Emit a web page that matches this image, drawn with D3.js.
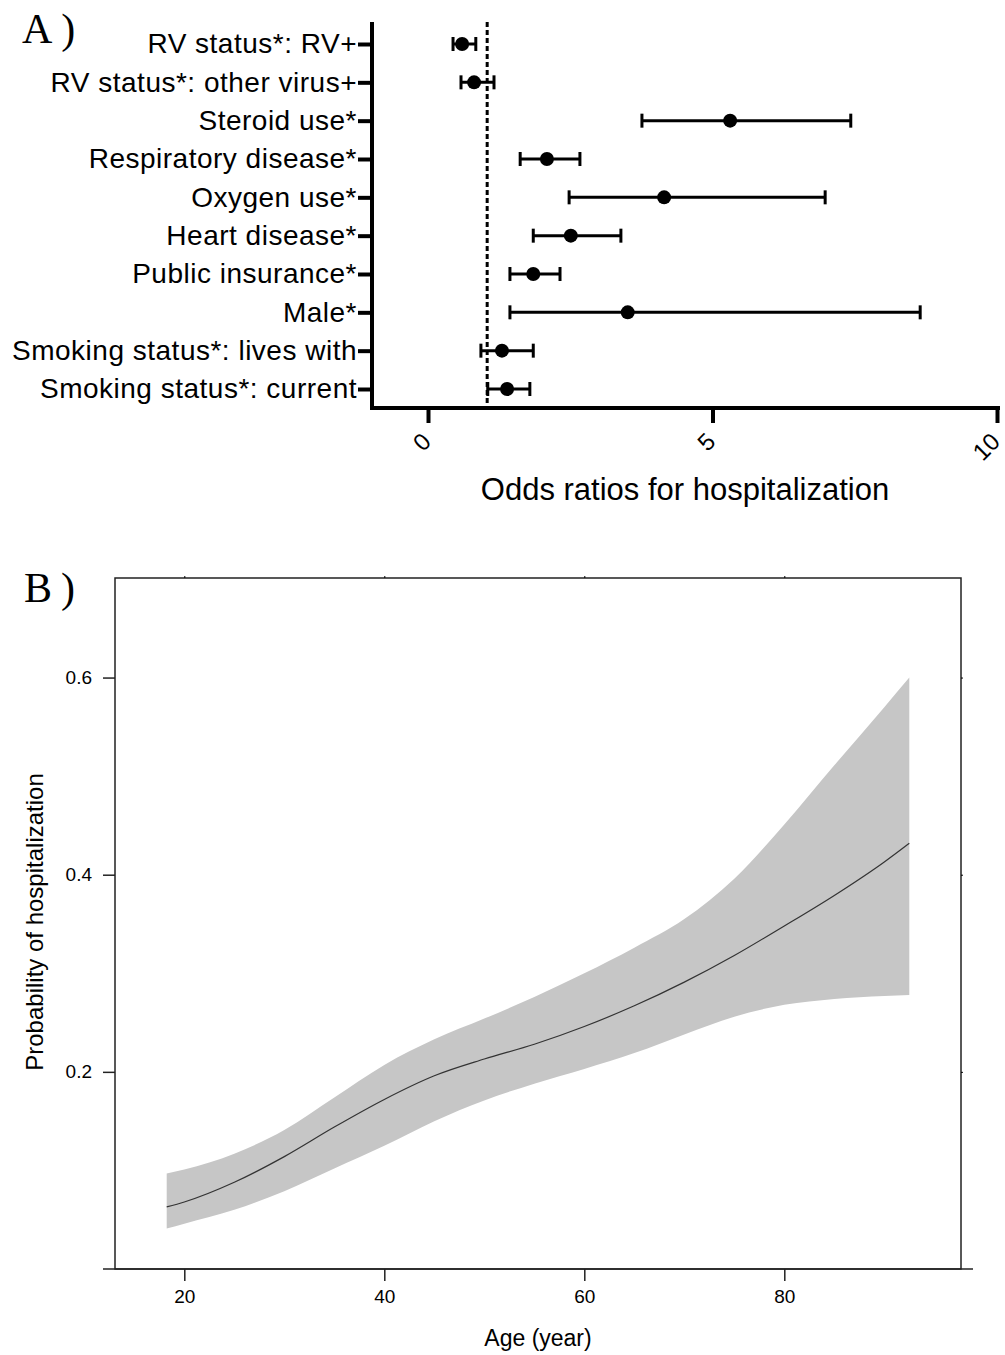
<!DOCTYPE html>
<html>
<head>
<meta charset="utf-8">
<script src="https://cdn.jsdelivr.net/npm/d3@7"></script>
<style>
  body { margin: 0; background: #fff; }
  text { font-family: "Liberation Sans", Arial, sans-serif; }
</style>
</head>
<body>
<svg class="chart"></svg>
<script>
// panel A: odds ratios
var factors = ["RV status*: RV+", "RV status*: other virus+", "Steroid use*", "Respiratory disease*",
  "Oxygen use*", "Heart disease*", "Public insurance*", "Male*",
  "Smoking status*: lives with", "Smoking status*: current"];
var oddsRatio = [0.60, 0.81, 5.31, 2.09, 4.15, 2.51, 1.85, 3.51, 1.30, 1.39];
var ciLow = [0.44, 0.58, 3.76, 1.62, 2.48, 1.85, 1.44, 1.44, 0.93, 1.05];
var ciHigh = [0.84, 1.16, 7.43, 2.67, 6.98, 3.39, 2.32, 8.65, 1.85, 1.79];
var orTicks = [0, 5, 10];

// panel B: predicted probability by age
var age = [18.24, 20, 25, 30, 35, 40, 45, 50, 55, 60, 65, 70, 75, 80, 85, 90, 92.5];
var prob = [0.063, 0.068, 0.088, 0.114, 0.144, 0.172, 0.196, 0.213, 0.228, 0.246, 0.267, 0.291, 0.318, 0.348, 0.379, 0.413, 0.432];
var probUpper = [0.097, 0.101, 0.117, 0.141, 0.174, 0.207, 0.233, 0.254, 0.276, 0.300, 0.326, 0.355, 0.396, 0.451, 0.511, 0.570, 0.600];
var probLower = [0.041, 0.046, 0.060, 0.079, 0.102, 0.125, 0.150, 0.171, 0.188, 0.203, 0.219, 0.238, 0.256, 0.268, 0.274, 0.277, 0.278];
var ageTicks = [20, 40, 60, 80];
var probTicks = [0.2, 0.4, 0.6];

var width = 1005;
var height = 1355;
var svg = d3.select(".chart").attr("width", width).attr("height", height);

// ---------- A ----------
var xA = d3.scaleLinear().domain([0, 10]).range([428, 997]);
var yA = d3.scalePoint().domain(factors).range([44, 389]);

svg.append("text")
    .attr("x", 22).attr("y", 43)
    .style("font-family", "'Liberation Serif', 'Times New Roman', serif")
    .style("font-size", "42px")
    .style("letter-spacing", "9px")
    .text("A)");

// reference line at OR = 1
svg.append("line")
    .attr("x1", xA(1.04)).attr("x2", xA(1.04))
    .attr("y1", 22).attr("y2", 406)
    .attr("stroke", "#000").attr("stroke-width", 3)
    .attr("stroke-dasharray", "5,3");

var yAxisA = svg.append("g")
    .attr("transform", "translate(372,0)")
    .call(d3.axisLeft(yA).tickSize(14).tickPadding(1));
yAxisA.select(".domain").remove();
yAxisA.selectAll(".tick line").attr("stroke-width", 4);
yAxisA.selectAll("text")
    .style("font-size", "28px").style("letter-spacing", "0.5px")
    .attr("fill", "#000");

var xAxisA = svg.append("g")
    .attr("transform", "translate(0,408)")
    .call(d3.axisBottom(xA).tickValues(orTicks).tickSize(15));
xAxisA.select(".domain").remove();
xAxisA.selectAll(".tick line").attr("stroke-width", 4);
xAxisA.selectAll("text")
    .style("font-size", "24px").attr("fill", "#000")
    .attr("text-anchor", "end")
    .attr("dy", null)
    .attr("y", 0)
    .attr("transform", "translate(-2,29) rotate(-45)")
    .attr("dominant-baseline", "central");

// axis lines
svg.append("path")
    .attr("d", "M372,22 L372,408 L1000,408")
    .attr("fill", "none").attr("stroke", "#000").attr("stroke-width", 4);

var rows = svg.append("g");
factors.forEach(function(f, i) {
  var y = yA(f);
  rows.append("line")
      .attr("x1", xA(ciLow[i])).attr("x2", xA(ciHigh[i]))
      .attr("y1", y).attr("y2", y)
      .attr("stroke", "#000").attr("stroke-width", 3);
  [ciLow[i], ciHigh[i]].forEach(function(v) {
    rows.append("line")
        .attr("x1", xA(v)).attr("x2", xA(v))
        .attr("y1", y - 7).attr("y2", y + 7)
        .attr("stroke", "#000").attr("stroke-width", 3);
  });
  rows.append("circle")
      .attr("cx", xA(oddsRatio[i])).attr("cy", y).attr("r", 7);
});

svg.append("text")
    .attr("x", 685).attr("y", 500)
    .attr("text-anchor", "middle")
    .style("font-size", "31px")
    .text("Odds ratios for hospitalization");

// ---------- B ----------
var boxLeft = 115, boxRight = 961, boxTop = 578, boxBottom = 1269;
var xB = d3.scaleLinear().domain([13.07, 97.67]).range([boxLeft, boxRight]);
var yB = d3.scaleLinear().domain([0, 0.701]).range([boxBottom, boxTop]);

svg.append("text")
    .attr("x", 24).attr("y", 602)
    .style("font-family", "'Liberation Serif', 'Times New Roman', serif")
    .style("font-size", "42px")
    .style("letter-spacing", "9px")
    .text("B)");

var band = d3.area()
    .x(function(d, i) { return xB(age[i]); })
    .y0(function(d, i) { return yB(probLower[i]); })
    .y1(function(d, i) { return yB(probUpper[i]); })
    .curve(d3.curveMonotoneX);

svg.append("path")
    .datum(age)
    .attr("d", band)
    .attr("fill", "#c6c6c6");

var fit = d3.line()
    .x(function(d, i) { return xB(age[i]); })
    .y(function(d, i) { return yB(prob[i]); })
    .curve(d3.curveMonotoneX);

svg.append("path")
    .datum(age)
    .attr("d", fit)
    .attr("fill", "none")
    .attr("stroke", "#333").attr("stroke-width", 1.2);

svg.append("rect")
    .attr("x", boxLeft).attr("y", boxTop)
    .attr("width", boxRight - boxLeft).attr("height", boxBottom - boxTop)
    .attr("fill", "none").attr("stroke", "#222").attr("stroke-width", 1.5);

var xAxisB = svg.append("g")
    .attr("transform", "translate(0," + boxBottom + ")")
    .call(d3.axisBottom(xB).tickValues(ageTicks).tickFormat(d3.format("d")).tickSize(12).tickPadding(9));
xAxisB.select(".domain").remove();
xAxisB.selectAll("text").style("font-size", "19px").attr("fill", "#000");
xAxisB.selectAll(".tick line").attr("stroke", "#222").attr("stroke-width", 1.5);

svg.append("line")
    .attr("x1", 103).attr("x2", 973)
    .attr("y1", boxBottom).attr("y2", boxBottom)
    .attr("stroke", "#222").attr("stroke-width", 1.5);

var yAxisB = svg.append("g")
    .attr("transform", "translate(" + boxLeft + ",0)")
    .call(d3.axisLeft(yB).tickValues(probTicks).tickFormat(d3.format(".1f")).tickSize(12).tickPadding(11));
yAxisB.select(".domain").remove();
yAxisB.selectAll("text").style("font-size", "19px").attr("fill", "#000");
yAxisB.selectAll(".tick line").attr("stroke", "#222").attr("stroke-width", 1.5);

// tiny ticks on top and right
svg.append("g")
    .attr("transform", "translate(0," + boxTop + ")")
    .call(d3.axisTop(xB).tickValues(ageTicks).tickSize(2).tickFormat(""))
    .select(".domain").remove();
svg.append("g")
    .attr("transform", "translate(" + boxRight + ",0)")
    .call(d3.axisRight(yB).tickValues(probTicks).tickSize(2).tickFormat(""))
    .select(".domain").remove();

svg.append("text")
    .attr("x", 538).attr("y", 1346)
    .attr("text-anchor", "middle")
    .style("font-size", "23px")
    .text("Age (year)");

svg.append("text")
    .attr("transform", "translate(43,922) rotate(-90)")
    .attr("text-anchor", "middle")
    .style("font-size", "24px")
    .text("Probability of hospitalization");
</script>
</body>
</html>
